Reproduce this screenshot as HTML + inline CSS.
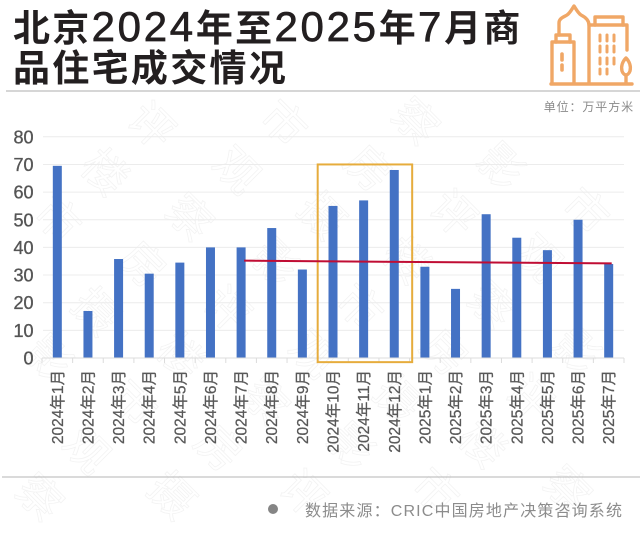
<!DOCTYPE html>
<html lang="zh">
<head>
<meta charset="utf-8">
<title>北京2024年至2025年7月商品住宅成交情况</title>
<style>
html,body{margin:0;padding:0;background:#fff;overflow:hidden;}
#page{position:relative;width:640px;height:545px;overflow:hidden;background:#fff;font-family:"Liberation Sans","Noto Sans CJK SC",sans-serif;}
svg{position:absolute;left:0;top:0;overflow:hidden;}
.title{font-weight:700;font-size:37px;fill:#231f20;letter-spacing:2.3px;}
.title .d{font-weight:400;font-size:42px;letter-spacing:2.7px;stroke:#231f20;stroke-width:.7px;}
.wm{font-size:44px;fill:none;stroke:#f3f3f3;stroke-width:.8px;}
</style>
</head>
<body>
<div id="page">
<svg id="chart" width="640" height="545" viewBox="0 0 640 545">
  <g id="watermarks"></g>
  <text class="title" x="13" y="41">北京<tspan class="d">2024</tspan>年至<tspan class="d">2025</tspan>年<tspan class="d">7</tspan>月商</text>
  <text class="title" x="13" y="81">品住宅成交情况</text>
  <line x1="6" y1="91" x2="640" y2="91" stroke="#bdbdbd" stroke-width="1.2"/>
  <g fill="none" stroke="#f0a766" stroke-width="3.4" stroke-linejoin="round" stroke-linecap="round">
    <line x1="551" y1="84" x2="632" y2="84"/>
    <path d="M552 83V42H574V83"/>
    <path d="M556 42V35H570V42"/>
    <path d="M559 35V23C559 18 564 17 567 15C570 13 572 9 574 6C576 9 578 13 581 15C585 17 589 20 589 25"/>
    <path d="M589 83V25H627V50"/>
    <path d="M595 25V17H623V25"/>
    <path d="M626 58C630 62 631 67 630 71C629 74 627 75 626 75C625 75 623 74 622 71C621 67 622 62 626 58Z"/>
    <line x1="626" y1="75" x2="626" y2="83"/>
    <path d="M562 54V60M562 65V70" stroke-width="3.6"/>
    <path d="M600 35V41M607 35V41M614 35V41M600 46V52M607 46V52M614 46V52M600 58V64M607 58V64M614 58V64M600 69V74M607 69V74" stroke-width="3"/>
  </g>
  <text x="634" y="111" text-anchor="end" font-size="12" fill="#8a8a8a" letter-spacing="0.9">单位：万平方米</text>
  <g id="grid"></g>
  <g id="yticks"></g>
  <g id="bars"></g>
  <g id="xaxis"></g>
  <g id="overlay"></g>
  <line x1="2" y1="477" x2="640" y2="477" stroke="#b5b5b5" stroke-width="1"/>
  <circle cx="273" cy="509" r="5" fill="#858585"/>
  <text x="305" y="516" font-size="16" fill="#8c8c8c" letter-spacing="1.15">数据来源：CRIC中国房地产决策咨询系统</text>
</svg>
</div>
<script>
const categories = ['2024年1月','2024年2月','2024年3月','2024年4月','2024年5月','2024年6月','2024年7月','2024年8月','2024年9月','2024年10月','2024年11月','2024年12月','2025年1月','2025年2月','2025年3月','2025年4月','2025年5月','2025年6月','2025年7月'];
const salesArea = [69.5,17,35.8,30.5,34.5,40,40,47,32,55,57,68,33,25,52,43.5,39,50,34];
const yTicks = [0,10,20,30,40,50,60,70,80];
const trendStartIndex = 6;
const trendEndIndex = 18;
const trendValues = [35.2,34.2];
const highlightIndices = [9,11];
const highlightRange = [-1.5,70];
const watermarkChars = ['摄','影','评','楼','市','观','察','房'];

const NS = 'http://www.w3.org/2000/svg';
const plotLeft = 42, plotRight = 624, plotBase = 358, plotTop = 136.8;
const yMax = yTicks[yTicks.length - 1];
const barW = 9;
function xBand() { return (plotRight - plotLeft) / categories.length; }
function xScale(i) { return plotLeft + xBand() * (i + 0.5); }
function yScale(v) { return plotBase - (v / yMax) * (plotBase - plotTop); }
function make(tag, attrs) {
  const el = document.createElementNS(NS, tag);
  Object.keys(attrs).forEach(function (k) { el.setAttribute(k, attrs[k]); });
  return el;
}

const grid = document.getElementById('grid');
const yG = document.getElementById('yticks');
yTicks.forEach(function (t) {
  if (t !== 0) {
    const gl = make('line', {x1: plotLeft + 1, x2: plotRight, y1: yScale(t), y2: yScale(t), stroke: '#ececec', 'stroke-width': 1});
    
    
    grid.appendChild(gl);
  }
  const lb = make('text', {x: 33.5, y: yScale(t) + 6.5, 'text-anchor': 'end', 'font-size': 18, fill: '#555', stroke: '#555', 'stroke-width': 0.35});
  lb.textContent = t;
  
  
  yG.appendChild(lb);
});

const barsG = document.getElementById('bars');
salesArea.forEach(function (v, i) {
  const r = make('rect', {x: xScale(i) - barW / 2, y: yScale(v), width: barW, height: plotBase - yScale(v), fill: '#4472c4'});
  
  
  barsG.appendChild(r);
});

const xG = document.getElementById('xaxis');
const axisLine = make('line', {x1: plotLeft, x2: plotRight, y1: plotBase, y2: plotBase, stroke: '#dcdcdc', 'stroke-width': 1});


xG.appendChild(axisLine);
categories.forEach(function (c, i) {
  const edge = plotLeft + xBand() * i;
  const tk = make('line', {x1: edge, x2: edge, y1: plotBase, y2: plotBase + 5, stroke: '#dcdcdc', 'stroke-width': 1});
  
  
  xG.appendChild(tk);
  const cx = xScale(i);
  const t = make('text', {x: 0, y: 0, 'text-anchor': 'end', 'font-size': 15.5, fill: '#595959', stroke: '#595959', 'stroke-width': 0.25, transform: 'translate(' + (cx + 5.5) + ',' + (plotBase + 12) + ') rotate(-90)'});
  t.textContent = c;
  
  
  xG.appendChild(t);
});
const lastEdge = make('line', {x1: plotRight, x2: plotRight, y1: plotBase, y2: plotBase + 5, stroke: '#dcdcdc', 'stroke-width': 1});


xG.appendChild(lastEdge);

const ov = document.getElementById('overlay');
const boxX0 = xScale(highlightIndices[0]) - xBand() / 2;
const boxX1 = xScale(highlightIndices[1]) + xBand() / 2 + 2.6;
const box = make('rect', {
  x: boxX0,
  y: yScale(highlightRange[1]),
  width: boxX1 - boxX0,
  height: yScale(highlightRange[0]) - yScale(highlightRange[1]),
  fill: 'none', stroke: '#e6ac3c', 'stroke-width': 2
});


ov.appendChild(box);
const trend = make('line', {
  x1: xScale(trendStartIndex) + 3, y1: yScale(trendValues[0]),
  x2: xScale(trendEndIndex) + 3, y2: yScale(trendValues[1]),
  stroke: '#c00d34', 'stroke-width': 2
});


ov.appendChild(trend);

const wmG = document.getElementById('watermarks');
for (let i = -8; i < 12; i++) {
  for (let j = -6; j < 10; j++) {
    const wx = 152 - 47 * i + 85 * j;
    const wy = 125 + 47 * i + 45 * j;
    if (wx < 30 || wx > 610 || wy < 120 || wy > 505) continue;
    const ch = make('text', {class: 'wm', x: 0, y: 16, 'text-anchor': 'middle', transform: 'translate(' + wx + ',' + wy + ') rotate(45)'});
    ch.textContent = watermarkChars[(i + 8 + (j + 6) * 3) % watermarkChars.length];
    
    
    wmG.appendChild(ch);
  }
}
</script>
</body>
</html>
